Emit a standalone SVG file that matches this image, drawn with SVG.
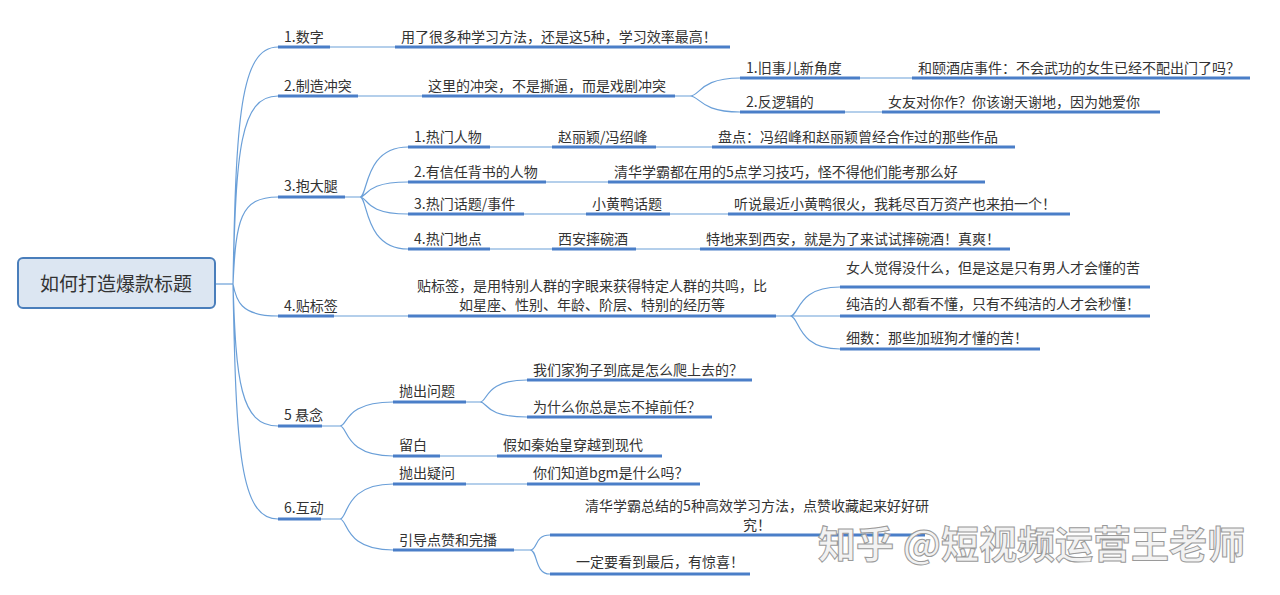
<svg xmlns="http://www.w3.org/2000/svg" width="1280" height="595" viewBox="0 0 1280 595">
<style>
text{font-family:"Noto Sans CJK SC","Noto Sans",sans-serif;font-size:14px;fill:#333}
.u{stroke:#4a7ec8;stroke-width:3;fill:none}
.c{stroke:#6a9fd8;stroke-width:1.2;fill:none}
.root{font-size:19px}
.wm{font-size:38px;fill:#f2f2f2;stroke:#9a9a9a;stroke-width:1;font-weight:bold}
</style>
<rect width="1280" height="595" fill="#fff"/>
<g id="connectors">
<path class="c" d="M215 284H233"/>
<path class="c" d="M233 284C236 120 240 47 278 47M233 284C236 150 240 96 278 96M233 284C236 220 240 197 278 197M233 284C236 300 240 316 278 316M233 284C236 380 240 426 278 426M233 284C236 450 240 519 278 519"/>
<path class="c" d="M330 47H395M358 96H422M675 96H690M334 316H408M776 316H790"/>
<path class="c" d="M690 96C700 96 700 78 740 78M690 96C700 96 700 112 740 112M860 78H912M845 112H882"/>
<path class="c" d="M345 197H360M360 197C368 197 364 147 408 147M360 197C368 197 364 182 408 182M360 197C368 197 364 214 408 214M360 197C368 197 364 249 408 249"/>
<path class="c" d="M490 147H552M656 147H712M546 182H608M524 214H586M670 214H728M490 249H552M636 249H700"/>
<path class="c" d="M790 316C800 316 796 287 840 287M790 316H840M790 316C800 316 796 349 840 349"/>
<path class="c" d="M322 426H340M340 426C348 426 344 402 393 402M340 426C348 426 344 456 393 456M466 402H480M480 402C488 402 484 380 527 380M480 402C488 402 484 417 527 417M440 456H497"/>
<path class="c" d="M321 519H340M340 519C348 519 344 484 393 484M340 519C348 519 344 550 393 550M466 484H527M514 550H530M530 550C538 550 534 535 550 535M530 550C538 550 534 574 550 574"/>
</g>
<g id="root"><rect x="18" y="258" width="197" height="50" rx="5" fill="#dce6f2" stroke="#4a7ebb" stroke-width="2"/><text class="root" x="116" y="291" text-anchor="middle">如何打造爆款标题</text></g>
<g id="n1"><text x="284" y="42">1.数字</text><path class="u" d="M278 47H330"/></g>
<g id="n1a"><text x="401" y="42">用了很多种学习方法，还是这5种，学习效率最高！</text><path class="u" d="M395 47H730"/></g>
<g id="n2"><text x="284" y="91">2.制造冲突</text><path class="u" d="M278 96H358"/></g>
<g id="n2a"><text x="428" y="91">这里的冲突，不是撕逼，而是戏剧冲突</text><path class="u" d="M422 96H675"/></g>
<g id="n2b"><text x="746" y="73">1.旧事儿新角度</text><path class="u" d="M740 78H860"/></g>
<g id="n2b1"><text x="918" y="73">和颐酒店事件：不会武功的女生已经不配出门了吗？</text><path class="u" d="M912 78H1250"/></g>
<g id="n2c"><text x="746" y="107">2.反逻辑的</text><path class="u" d="M740 112H845"/></g>
<g id="n2c1"><text x="888" y="107">女友对你作？你该谢天谢地，因为她爱你</text><path class="u" d="M882 112H1160"/></g>
<g id="n3"><text x="284" y="191">3.抱大腿</text><path class="u" d="M278 197H345"/></g>
<g id="n3a"><text x="414" y="142">1.热门人物</text><path class="u" d="M408 147H490"/></g>
<g id="n3a1"><text x="558" y="142">赵丽颖/冯绍峰</text><path class="u" d="M552 147H656"/></g>
<g id="n3a2"><text x="718" y="142">盘点：冯绍峰和赵丽颖曾经合作过的那些作品</text><path class="u" d="M712 147H1015"/></g>
<g id="n3b"><text x="414" y="177">2.有信任背书的人物</text><path class="u" d="M408 182H546"/></g>
<g id="n3b1"><text x="614" y="177">清华学霸都在用的5点学习技巧，怪不得他们能考那么好</text><path class="u" d="M608 182H985"/></g>
<g id="n3c"><text x="414" y="209">3.热门话题/事件</text><path class="u" d="M408 214H524"/></g>
<g id="n3c1"><text x="592" y="209">小黄鸭话题</text><path class="u" d="M586 214H670"/></g>
<g id="n3c2"><text x="734" y="209">听说最近小黄鸭很火，我耗尽百万资产也来拍一个！</text><path class="u" d="M728 214H1070"/></g>
<g id="n3d"><text x="414" y="244">4.热门地点</text><path class="u" d="M408 249H490"/></g>
<g id="n3d1"><text x="558" y="244">西安摔碗酒</text><path class="u" d="M552 249H636"/></g>
<g id="n3d2"><text x="706" y="244">特地来到西安，就是为了来试试摔碗酒！真爽！</text><path class="u" d="M700 249H1010"/></g>
<g id="n4"><text x="284" y="311">4.贴标签</text><path class="u" d="M278 316H334"/></g>
<g id="n4a"><text x="592" y="291" text-anchor="middle">贴标签，是用特别人群的字眼来获得特定人群的共鸣，比</text><text x="592" y="310" text-anchor="middle">如星座、性别、年龄、阶层、特别的经历等</text><path class="u" d="M408 316H776"/></g>
<g id="n4b"><text x="846" y="273">女人觉得没什么，但是这是只有男人才会懂的苦</text><path class="u" d="M840 287H1150"/></g>
<g id="n4c"><text x="846" y="309">纯洁的人都看不懂，只有不纯洁的人才会秒懂！</text><path class="u" d="M840 316H1150"/></g>
<g id="n4d"><text x="846" y="343">细数：那些加班狗才懂的苦！</text><path class="u" d="M840 349H1040"/></g>
<g id="n5"><text x="284" y="420">5 悬念</text><path class="u" d="M278 426H322"/></g>
<g id="n5a"><text x="399" y="396">抛出问题</text><path class="u" d="M393 402H466"/></g>
<g id="n5a1"><text x="533" y="375">我们家狗子到底是怎么爬上去的？</text><path class="u" d="M527 380H752"/></g>
<g id="n5a2"><text x="533" y="412">为什么你总是忘不掉前任？</text><path class="u" d="M527 417H712"/></g>
<g id="n5b"><text x="399" y="450">留白</text><path class="u" d="M393 456H440"/></g>
<g id="n5b1"><text x="503" y="450">假如秦始皇穿越到现代</text><path class="u" d="M497 456H662"/></g>
<g id="n6"><text x="284" y="513">6.互动</text><path class="u" d="M278 519H321"/></g>
<g id="n6a"><text x="399" y="478">抛出疑问</text><path class="u" d="M393 484H466"/></g>
<g id="n6a1"><text x="533" y="478">你们知道bgm是什么吗？</text><path class="u" d="M527 484H700"/></g>
<g id="n6b"><text x="399" y="545">引导点赞和完播</text><path class="u" d="M393 550H514"/></g>
<g id="n6b1"><text x="757" y="511" text-anchor="middle">清华学霸总结的5种高效学习方法，点赞收藏起来好好研</text><text x="757" y="530" text-anchor="middle">究！</text><path class="u" d="M550 535H925"/></g>
<g id="n6b2"><text x="576" y="567">一定要看到最后，有惊喜！</text><path class="u" d="M550 574H750"/></g>
<text class="wm" x="818" y="558">知乎 @短视频运营王老师</text>
</svg>
